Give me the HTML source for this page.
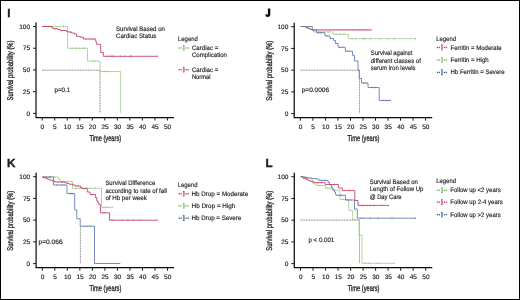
<!DOCTYPE html><html><head><meta charset="utf-8"><style>html,body{margin:0;padding:0;background:#fff;width:520px;height:300px;overflow:hidden}svg{display:block;will-change:transform;text-rendering:geometricPrecision}</style></head><body><svg width="520" height="300" viewBox="0 0 520 300" font-family="Liberation Sans, sans-serif" fill="#222">
<defs><filter id="soft" x="-5%" y="-5%" width="110%" height="110%"><feGaussianBlur stdDeviation="0.3"/></filter><filter id="tsoft" x="-5%" y="-5%" width="110%" height="110%"><feGaussianBlur stdDeviation="0.25"/></filter></defs>
<rect x="0" y="0" width="520" height="300" fill="#fff"/>
<g filter="url(#soft)">
<path d="M42,70.2 H100 M100,70.2 V113.4" fill="none" stroke="#d0d0d0" stroke-width="0.85"/>
<path d="M42,70.2 H100 M100,70.2 V113.4" fill="none" stroke="#959595" stroke-width="0.85" stroke-dasharray="1.4,1.3"/>
<path d="M42,26.5 H67.5 V48.3 H87.5 V61 H100 V71.5 H120.7 V113.2" fill="none" stroke="#a2d08a" stroke-width="0.85" stroke-linejoin="miter"/>
<path d="M42,26.5 H51.7 V27.7 H53 V28.7 H57.5 V29.7 H60.3 V30.5 H66 V31.3 H67.8 V32 H71.5 V33 H74.5 V34 H76.5 V36.3 H80.3 V37.3 H83.5 V39 H95.7 V41.7 H96.4 V44.3 H100.7 V52.5 H103.3 V56.3 H157.8" fill="none" stroke="#c43a64" stroke-width="0.85" stroke-linejoin="miter"/>
<rect x="63.00" y="25.60" width="0.6" height="1.8" fill="#74b050" fill-opacity="0.75"/>
<rect x="71.70" y="47.40" width="0.6" height="1.8" fill="#74b050" fill-opacity="0.75"/>
<rect x="76.40" y="47.40" width="0.6" height="1.8" fill="#74b050" fill-opacity="0.75"/>
<rect x="79.00" y="47.40" width="0.6" height="1.8" fill="#74b050" fill-opacity="0.75"/>
<rect x="81.70" y="47.40" width="0.6" height="1.8" fill="#74b050" fill-opacity="0.75"/>
<rect x="84.40" y="47.40" width="0.6" height="1.8" fill="#74b050" fill-opacity="0.75"/>
<rect x="92.40" y="60.10" width="0.6" height="1.8" fill="#74b050" fill-opacity="0.75"/>
<rect x="94.10" y="60.10" width="0.6" height="1.8" fill="#74b050" fill-opacity="0.75"/>
<rect x="104.40" y="70.60" width="0.6" height="1.8" fill="#74b050" fill-opacity="0.75"/>
<rect x="107.70" y="70.60" width="0.6" height="1.8" fill="#74b050" fill-opacity="0.75"/>
<rect x="45.70" y="25.60" width="0.6" height="1.8" fill="#c03860" fill-opacity="0.75"/>
<rect x="48.70" y="25.60" width="0.6" height="1.8" fill="#c03860" fill-opacity="0.75"/>
<rect x="54.70" y="27.80" width="0.6" height="1.8" fill="#c03860" fill-opacity="0.75"/>
<rect x="61.70" y="29.60" width="0.6" height="1.8" fill="#c03860" fill-opacity="0.75"/>
<rect x="69.70" y="31.10" width="0.6" height="1.8" fill="#c03860" fill-opacity="0.75"/>
<rect x="85.70" y="38.10" width="0.6" height="1.8" fill="#c03860" fill-opacity="0.75"/>
<rect x="89.70" y="38.10" width="0.6" height="1.8" fill="#c03860" fill-opacity="0.75"/>
<rect x="92.70" y="38.10" width="0.6" height="1.8" fill="#c03860" fill-opacity="0.75"/>
<rect x="106.00" y="55.40" width="0.6" height="1.8" fill="#c03860" fill-opacity="0.75"/>
<rect x="108.40" y="55.40" width="0.6" height="1.8" fill="#c03860" fill-opacity="0.75"/>
<rect x="110.70" y="55.40" width="0.6" height="1.8" fill="#c03860" fill-opacity="0.75"/>
<rect x="111.80" y="55.40" width="0.6" height="1.8" fill="#c03860" fill-opacity="0.75"/>
<rect x="113.50" y="55.40" width="0.6" height="1.8" fill="#c03860" fill-opacity="0.75"/>
<rect x="120.20" y="55.40" width="0.6" height="1.8" fill="#c03860" fill-opacity="0.75"/>
<rect x="124.20" y="55.40" width="0.6" height="1.8" fill="#c03860" fill-opacity="0.75"/>
<rect x="129.90" y="55.40" width="0.6" height="1.8" fill="#c03860" fill-opacity="0.75"/>
<rect x="130.80" y="55.40" width="0.6" height="1.8" fill="#c03860" fill-opacity="0.75"/>
<rect x="156.80" y="55.40" width="0.6" height="1.8" fill="#c03860" fill-opacity="0.75"/>
<rect x="178.55" y="47.35" width="1.3" height="1.3" fill="#74b050"/>
<rect x="180.45" y="47.35" width="1.3" height="1.3" fill="#74b050"/>
<rect x="185.45" y="47.35" width="1.3" height="1.3" fill="#74b050"/>
<rect x="187.45" y="47.35" width="1.3" height="1.3" fill="#74b050"/>
<rect x="183.10" y="45.30" width="1.3" height="5.4" fill="#74b050" fill-opacity="0.55" stroke="#74b050" stroke-width="0.35"/>
<rect x="178.55" y="69.05" width="1.3" height="1.3" fill="#c03860"/>
<rect x="180.45" y="69.05" width="1.3" height="1.3" fill="#c03860"/>
<rect x="185.45" y="69.05" width="1.3" height="1.3" fill="#c03860"/>
<rect x="187.45" y="69.05" width="1.3" height="1.3" fill="#c03860"/>
<rect x="183.10" y="67.00" width="1.3" height="5.4" fill="#c03860" fill-opacity="0.55" stroke="#c03860" stroke-width="0.35"/>
<path d="M300.5,70.2 H359.5 M359.5,70.2 V113.6" fill="none" stroke="#d0d0d0" stroke-width="0.85"/>
<path d="M300.5,70.2 H359.5 M359.5,70.2 V113.6" fill="none" stroke="#959595" stroke-width="0.85" stroke-dasharray="1.4,1.3"/>
<path d="M300.7,26.5 H306.5 V28.2 H310.3 V29.5 H313.3 V31.9 H332.8 V34.2 H348.3 V38.7 H416" fill="none" stroke="#a2d08a" stroke-width="0.85" stroke-linejoin="miter"/>
<path d="M300.7,26.5 H305.5 V27.3 H307.5 V28.2 H309.5 V29.2 H311.5 V29.9 H371.5" fill="none" stroke="#c43a64" stroke-width="0.85" stroke-linejoin="miter"/>
<path d="M300.7,26.5 H312.3 V30 H316.5 V32.7 H324.7 V34.5 H325.2 V36 H330 V38.5 H333.7 V40.5 H335.5 V43.5 H338 V47.3 H345.3 V51.2 H352.5 V55.3 H354.5 V61 H358 V70 H359.2 V78.5 H361.5 V83 H368 V87.5 H379.2 V100.5 H390.5" fill="none" stroke="#5e76b0" stroke-width="0.85" stroke-linejoin="miter"/>
<rect x="319.70" y="31.00" width="0.6" height="1.8" fill="#74b050" fill-opacity="0.75"/>
<rect x="323.70" y="31.00" width="0.6" height="1.8" fill="#74b050" fill-opacity="0.75"/>
<rect x="327.70" y="31.00" width="0.6" height="1.8" fill="#74b050" fill-opacity="0.75"/>
<rect x="335.70" y="33.30" width="0.6" height="1.8" fill="#74b050" fill-opacity="0.75"/>
<rect x="339.70" y="33.30" width="0.6" height="1.8" fill="#74b050" fill-opacity="0.75"/>
<rect x="343.70" y="33.30" width="0.6" height="1.8" fill="#74b050" fill-opacity="0.75"/>
<rect x="351.70" y="37.80" width="0.6" height="1.8" fill="#74b050" fill-opacity="0.75"/>
<rect x="355.70" y="37.80" width="0.6" height="1.8" fill="#74b050" fill-opacity="0.75"/>
<rect x="362.00" y="37.80" width="0.6" height="1.8" fill="#74b050" fill-opacity="0.75"/>
<rect x="364.20" y="37.80" width="0.6" height="1.8" fill="#74b050" fill-opacity="0.75"/>
<rect x="365.20" y="37.80" width="0.6" height="1.8" fill="#74b050" fill-opacity="0.75"/>
<rect x="370.20" y="37.80" width="0.6" height="1.8" fill="#74b050" fill-opacity="0.75"/>
<rect x="379.20" y="37.80" width="0.6" height="1.8" fill="#74b050" fill-opacity="0.75"/>
<rect x="388.20" y="37.80" width="0.6" height="1.8" fill="#74b050" fill-opacity="0.75"/>
<rect x="394.20" y="37.80" width="0.6" height="1.8" fill="#74b050" fill-opacity="0.75"/>
<rect x="415.20" y="37.80" width="0.6" height="1.8" fill="#74b050" fill-opacity="0.75"/>
<rect x="317.70" y="29.00" width="0.6" height="1.8" fill="#c03860" fill-opacity="0.75"/>
<rect x="321.70" y="29.00" width="0.6" height="1.8" fill="#c03860" fill-opacity="0.75"/>
<rect x="325.70" y="29.00" width="0.6" height="1.8" fill="#c03860" fill-opacity="0.75"/>
<rect x="329.70" y="29.00" width="0.6" height="1.8" fill="#c03860" fill-opacity="0.75"/>
<rect x="333.70" y="29.00" width="0.6" height="1.8" fill="#c03860" fill-opacity="0.75"/>
<rect x="337.70" y="29.00" width="0.6" height="1.8" fill="#c03860" fill-opacity="0.75"/>
<rect x="340.70" y="29.00" width="0.6" height="1.8" fill="#c03860" fill-opacity="0.75"/>
<rect x="343.70" y="29.00" width="0.6" height="1.8" fill="#c03860" fill-opacity="0.75"/>
<rect x="346.70" y="29.00" width="0.6" height="1.8" fill="#c03860" fill-opacity="0.75"/>
<rect x="349.70" y="29.00" width="0.6" height="1.8" fill="#c03860" fill-opacity="0.75"/>
<rect x="352.70" y="29.00" width="0.6" height="1.8" fill="#c03860" fill-opacity="0.75"/>
<rect x="355.70" y="29.00" width="0.6" height="1.8" fill="#c03860" fill-opacity="0.75"/>
<rect x="358.70" y="29.00" width="0.6" height="1.8" fill="#c03860" fill-opacity="0.75"/>
<rect x="360.70" y="29.00" width="0.6" height="1.8" fill="#c03860" fill-opacity="0.75"/>
<rect x="363.70" y="29.00" width="0.6" height="1.8" fill="#c03860" fill-opacity="0.75"/>
<rect x="365.70" y="29.00" width="0.6" height="1.8" fill="#c03860" fill-opacity="0.75"/>
<rect x="367.70" y="29.00" width="0.6" height="1.8" fill="#c03860" fill-opacity="0.75"/>
<rect x="370.70" y="29.00" width="0.6" height="1.8" fill="#c03860" fill-opacity="0.75"/>
<rect x="318.20" y="31.80" width="0.6" height="1.8" fill="#3c5696" fill-opacity="0.75"/>
<rect x="320.70" y="31.80" width="0.6" height="1.8" fill="#3c5696" fill-opacity="0.75"/>
<rect x="326.70" y="35.10" width="0.6" height="1.8" fill="#3c5696" fill-opacity="0.75"/>
<rect x="339.70" y="46.40" width="0.6" height="1.8" fill="#3c5696" fill-opacity="0.75"/>
<rect x="342.20" y="46.40" width="0.6" height="1.8" fill="#3c5696" fill-opacity="0.75"/>
<rect x="346.70" y="50.30" width="0.6" height="1.8" fill="#3c5696" fill-opacity="0.75"/>
<rect x="349.70" y="50.30" width="0.6" height="1.8" fill="#3c5696" fill-opacity="0.75"/>
<rect x="363.70" y="82.10" width="0.6" height="1.8" fill="#3c5696" fill-opacity="0.75"/>
<rect x="365.70" y="82.10" width="0.6" height="1.8" fill="#3c5696" fill-opacity="0.75"/>
<rect x="371.70" y="86.60" width="0.6" height="1.8" fill="#3c5696" fill-opacity="0.75"/>
<rect x="374.70" y="86.60" width="0.6" height="1.8" fill="#3c5696" fill-opacity="0.75"/>
<rect x="382.70" y="99.60" width="0.6" height="1.8" fill="#3c5696" fill-opacity="0.75"/>
<rect x="385.70" y="99.60" width="0.6" height="1.8" fill="#3c5696" fill-opacity="0.75"/>
<rect x="390.00" y="99.60" width="0.6" height="1.8" fill="#3c5696" fill-opacity="0.75"/>
<rect x="436.85" y="46.85" width="1.3" height="1.3" fill="#c03860"/>
<rect x="438.75" y="46.85" width="1.3" height="1.3" fill="#c03860"/>
<rect x="443.75" y="46.85" width="1.3" height="1.3" fill="#c03860"/>
<rect x="445.75" y="46.85" width="1.3" height="1.3" fill="#c03860"/>
<rect x="441.40" y="44.80" width="1.3" height="5.4" fill="#c03860" fill-opacity="0.55" stroke="#c03860" stroke-width="0.35"/>
<rect x="436.85" y="59.35" width="1.3" height="1.3" fill="#74b050"/>
<rect x="438.75" y="59.35" width="1.3" height="1.3" fill="#74b050"/>
<rect x="443.75" y="59.35" width="1.3" height="1.3" fill="#74b050"/>
<rect x="445.75" y="59.35" width="1.3" height="1.3" fill="#74b050"/>
<rect x="441.40" y="57.30" width="1.3" height="5.4" fill="#74b050" fill-opacity="0.55" stroke="#74b050" stroke-width="0.35"/>
<rect x="436.85" y="71.75" width="1.3" height="1.3" fill="#3c5696"/>
<rect x="438.75" y="71.75" width="1.3" height="1.3" fill="#3c5696"/>
<rect x="443.75" y="71.75" width="1.3" height="1.3" fill="#3c5696"/>
<rect x="445.75" y="71.75" width="1.3" height="1.3" fill="#3c5696"/>
<rect x="441.40" y="69.70" width="1.3" height="5.4" fill="#3c5696" fill-opacity="0.55" stroke="#3c5696" stroke-width="0.35"/>
<path d="M80.4,226.3 V263.4" fill="none" stroke="#d0d0d0" stroke-width="0.85"/>
<path d="M80.4,226.3 V263.4" fill="none" stroke="#959595" stroke-width="0.85" stroke-dasharray="1.4,1.3"/>
<path d="M42.3,177 H58.7 V179.3 H60.7 V181.5 H72.5 V188.3 H101.5 V207.4 H112.5" fill="none" stroke="#a2d08a" stroke-width="0.85" stroke-linejoin="miter"/>
<path d="M42.3,177 H53.6 V185 H67 V193.5 H74.7 V210 H76.8 V218.7 H80.2 V226.2 H94.5 V263.5 H120.3" fill="none" stroke="#5e76b0" stroke-width="0.85" stroke-linejoin="miter"/>
<path d="M42.3,177 H44 V178 H47 V179 H49 V180 H52 V181 H55 V182 H65 V182.8 H67 V183.5 H69 V184.2 H72.5 V185 H75 V186 H80.5 V187.5 H82 V188.5 H87.3 V192 H90 V194.5 H95.5 V197.5 H96.8 V201 H98 V203 H99 V204.5 H100.4 V212.8 H109.5 V220.2 H157.2" fill="none" stroke="#c43a64" stroke-width="0.85" stroke-linejoin="miter"/>
<rect x="49.70" y="176.10" width="0.6" height="1.8" fill="#74b050" fill-opacity="0.75"/>
<rect x="54.70" y="176.10" width="0.6" height="1.8" fill="#74b050" fill-opacity="0.75"/>
<rect x="62.70" y="180.60" width="0.6" height="1.8" fill="#74b050" fill-opacity="0.75"/>
<rect x="67.70" y="180.60" width="0.6" height="1.8" fill="#74b050" fill-opacity="0.75"/>
<rect x="75.70" y="187.40" width="0.6" height="1.8" fill="#74b050" fill-opacity="0.75"/>
<rect x="79.70" y="187.40" width="0.6" height="1.8" fill="#74b050" fill-opacity="0.75"/>
<rect x="85.70" y="187.40" width="0.6" height="1.8" fill="#74b050" fill-opacity="0.75"/>
<rect x="89.70" y="187.40" width="0.6" height="1.8" fill="#74b050" fill-opacity="0.75"/>
<rect x="94.70" y="187.40" width="0.6" height="1.8" fill="#74b050" fill-opacity="0.75"/>
<rect x="103.70" y="206.50" width="0.6" height="1.8" fill="#74b050" fill-opacity="0.75"/>
<rect x="106.70" y="206.50" width="0.6" height="1.8" fill="#74b050" fill-opacity="0.75"/>
<rect x="112.00" y="206.50" width="0.6" height="1.8" fill="#74b050" fill-opacity="0.75"/>
<rect x="57.70" y="181.10" width="0.6" height="1.8" fill="#c03860" fill-opacity="0.75"/>
<rect x="61.70" y="181.10" width="0.6" height="1.8" fill="#c03860" fill-opacity="0.75"/>
<rect x="77.70" y="185.10" width="0.6" height="1.8" fill="#c03860" fill-opacity="0.75"/>
<rect x="83.70" y="187.60" width="0.6" height="1.8" fill="#c03860" fill-opacity="0.75"/>
<rect x="91.70" y="193.60" width="0.6" height="1.8" fill="#c03860" fill-opacity="0.75"/>
<rect x="102.70" y="211.90" width="0.6" height="1.8" fill="#c03860" fill-opacity="0.75"/>
<rect x="104.70" y="211.90" width="0.6" height="1.8" fill="#c03860" fill-opacity="0.75"/>
<rect x="110.70" y="219.30" width="0.6" height="1.8" fill="#c03860" fill-opacity="0.75"/>
<rect x="112.70" y="219.30" width="0.6" height="1.8" fill="#c03860" fill-opacity="0.75"/>
<rect x="121.70" y="219.30" width="0.6" height="1.8" fill="#c03860" fill-opacity="0.75"/>
<rect x="127.70" y="219.30" width="0.6" height="1.8" fill="#c03860" fill-opacity="0.75"/>
<rect x="132.70" y="219.30" width="0.6" height="1.8" fill="#c03860" fill-opacity="0.75"/>
<rect x="139.70" y="219.30" width="0.6" height="1.8" fill="#c03860" fill-opacity="0.75"/>
<rect x="156.70" y="219.30" width="0.6" height="1.8" fill="#c03860" fill-opacity="0.75"/>
<rect x="45.70" y="176.10" width="0.6" height="1.8" fill="#3c5696" fill-opacity="0.75"/>
<rect x="49.70" y="176.10" width="0.6" height="1.8" fill="#3c5696" fill-opacity="0.75"/>
<rect x="56.70" y="184.10" width="0.6" height="1.8" fill="#3c5696" fill-opacity="0.75"/>
<rect x="60.70" y="184.10" width="0.6" height="1.8" fill="#3c5696" fill-opacity="0.75"/>
<rect x="63.70" y="184.10" width="0.6" height="1.8" fill="#3c5696" fill-opacity="0.75"/>
<rect x="69.70" y="192.60" width="0.6" height="1.8" fill="#3c5696" fill-opacity="0.75"/>
<rect x="71.70" y="192.60" width="0.6" height="1.8" fill="#3c5696" fill-opacity="0.75"/>
<rect x="83.70" y="225.30" width="0.6" height="1.8" fill="#3c5696" fill-opacity="0.75"/>
<rect x="86.70" y="225.30" width="0.6" height="1.8" fill="#3c5696" fill-opacity="0.75"/>
<rect x="89.70" y="225.30" width="0.6" height="1.8" fill="#3c5696" fill-opacity="0.75"/>
<rect x="178.55" y="193.15" width="1.3" height="1.3" fill="#c03860"/>
<rect x="180.45" y="193.15" width="1.3" height="1.3" fill="#c03860"/>
<rect x="185.45" y="193.15" width="1.3" height="1.3" fill="#c03860"/>
<rect x="187.45" y="193.15" width="1.3" height="1.3" fill="#c03860"/>
<rect x="183.10" y="191.10" width="1.3" height="5.4" fill="#c03860" fill-opacity="0.55" stroke="#c03860" stroke-width="0.35"/>
<rect x="178.55" y="205.25" width="1.3" height="1.3" fill="#74b050"/>
<rect x="180.45" y="205.25" width="1.3" height="1.3" fill="#74b050"/>
<rect x="185.45" y="205.25" width="1.3" height="1.3" fill="#74b050"/>
<rect x="187.45" y="205.25" width="1.3" height="1.3" fill="#74b050"/>
<rect x="183.10" y="203.20" width="1.3" height="5.4" fill="#74b050" fill-opacity="0.55" stroke="#74b050" stroke-width="0.35"/>
<rect x="178.55" y="217.55" width="1.3" height="1.3" fill="#3c5696"/>
<rect x="180.45" y="217.55" width="1.3" height="1.3" fill="#3c5696"/>
<rect x="185.45" y="217.55" width="1.3" height="1.3" fill="#3c5696"/>
<rect x="187.45" y="217.55" width="1.3" height="1.3" fill="#3c5696"/>
<rect x="183.10" y="215.50" width="1.3" height="5.4" fill="#3c5696" fill-opacity="0.55" stroke="#3c5696" stroke-width="0.35"/>
<path d="M300.6,220.1 H359.5 M359.5,220.1 V263.4" fill="none" stroke="#d0d0d0" stroke-width="0.85"/>
<path d="M300.6,220.1 H359.5 M359.5,220.1 V263.4" fill="none" stroke="#959595" stroke-width="0.85" stroke-dasharray="1.4,1.3"/>
<path d="M300.6,176.8 H306.5 V178.3 H311.8 V180.4 H313 V183.9 H316.6 V185.5 H325.5 V188 H332 V190.2 H340 V199.5 H348.7 V210.3 H352.7 V219.5 H359 V235.3 H362 V263.3 H394.6" fill="none" stroke="#a2d08a" stroke-width="0.85" stroke-linejoin="miter"/>
<path d="M300.6,176.8 H303 V178.3 H306.5 V179.6 H308 V180.6 H310.5 V181.7 H313.5 V182.6 H325.2 V184.5 H338.4 V188 H342.3 V190.6 H354.8 V200.5 H358 V205.4 H388.9" fill="none" stroke="#c43a64" stroke-width="0.85" stroke-linejoin="miter"/>
<path d="M300.6,176.8 H304.3 V177.5 H307.5 V178 H312 V178.5 H316.6 V179 H319 V180.4 H328 V182.5 H329.5 V184.5 H331 V186 H332 V188 H333 V190 H334.5 V192 H335.5 V194 H336 V195.3 H345.5 V200 H354.5 V209 H357.3 V218.2 H415.8" fill="none" stroke="#5e76b0" stroke-width="0.85" stroke-linejoin="miter"/>
<rect x="319.70" y="184.60" width="0.6" height="1.8" fill="#74b050" fill-opacity="0.75"/>
<rect x="326.70" y="187.10" width="0.6" height="1.8" fill="#74b050" fill-opacity="0.75"/>
<rect x="329.70" y="187.10" width="0.6" height="1.8" fill="#74b050" fill-opacity="0.75"/>
<rect x="342.70" y="198.60" width="0.6" height="1.8" fill="#74b050" fill-opacity="0.75"/>
<rect x="345.70" y="198.60" width="0.6" height="1.8" fill="#74b050" fill-opacity="0.75"/>
<rect x="354.70" y="209.40" width="0.6" height="1.8" fill="#74b050" fill-opacity="0.75"/>
<rect x="364.70" y="262.40" width="0.6" height="1.8" fill="#74b050" fill-opacity="0.75"/>
<rect x="368.70" y="262.40" width="0.6" height="1.8" fill="#74b050" fill-opacity="0.75"/>
<rect x="377.70" y="262.40" width="0.6" height="1.8" fill="#74b050" fill-opacity="0.75"/>
<rect x="394.10" y="262.40" width="0.6" height="1.8" fill="#74b050" fill-opacity="0.75"/>
<rect x="317.70" y="181.70" width="0.6" height="1.8" fill="#c03860" fill-opacity="0.75"/>
<rect x="320.70" y="181.70" width="0.6" height="1.8" fill="#c03860" fill-opacity="0.75"/>
<rect x="329.70" y="183.60" width="0.6" height="1.8" fill="#c03860" fill-opacity="0.75"/>
<rect x="333.70" y="183.60" width="0.6" height="1.8" fill="#c03860" fill-opacity="0.75"/>
<rect x="349.70" y="189.70" width="0.6" height="1.8" fill="#c03860" fill-opacity="0.75"/>
<rect x="361.70" y="204.50" width="0.6" height="1.8" fill="#c03860" fill-opacity="0.75"/>
<rect x="363.70" y="204.50" width="0.6" height="1.8" fill="#c03860" fill-opacity="0.75"/>
<rect x="366.70" y="204.50" width="0.6" height="1.8" fill="#c03860" fill-opacity="0.75"/>
<rect x="369.70" y="204.50" width="0.6" height="1.8" fill="#c03860" fill-opacity="0.75"/>
<rect x="373.70" y="204.50" width="0.6" height="1.8" fill="#c03860" fill-opacity="0.75"/>
<rect x="381.70" y="204.50" width="0.6" height="1.8" fill="#c03860" fill-opacity="0.75"/>
<rect x="388.40" y="204.50" width="0.6" height="1.8" fill="#c03860" fill-opacity="0.75"/>
<rect x="321.70" y="179.50" width="0.6" height="1.8" fill="#3c5696" fill-opacity="0.75"/>
<rect x="324.70" y="179.50" width="0.6" height="1.8" fill="#3c5696" fill-opacity="0.75"/>
<rect x="338.70" y="194.40" width="0.6" height="1.8" fill="#3c5696" fill-opacity="0.75"/>
<rect x="341.70" y="194.40" width="0.6" height="1.8" fill="#3c5696" fill-opacity="0.75"/>
<rect x="347.70" y="199.10" width="0.6" height="1.8" fill="#3c5696" fill-opacity="0.75"/>
<rect x="350.70" y="199.10" width="0.6" height="1.8" fill="#3c5696" fill-opacity="0.75"/>
<rect x="360.70" y="217.30" width="0.6" height="1.8" fill="#3c5696" fill-opacity="0.75"/>
<rect x="363.70" y="217.30" width="0.6" height="1.8" fill="#3c5696" fill-opacity="0.75"/>
<rect x="369.70" y="217.30" width="0.6" height="1.8" fill="#3c5696" fill-opacity="0.75"/>
<rect x="377.70" y="217.30" width="0.6" height="1.8" fill="#3c5696" fill-opacity="0.75"/>
<rect x="391.70" y="217.30" width="0.6" height="1.8" fill="#3c5696" fill-opacity="0.75"/>
<rect x="415.30" y="217.30" width="0.6" height="1.8" fill="#3c5696" fill-opacity="0.75"/>
<rect x="436.85" y="189.65" width="1.3" height="1.3" fill="#74b050"/>
<rect x="438.75" y="189.65" width="1.3" height="1.3" fill="#74b050"/>
<rect x="443.75" y="189.65" width="1.3" height="1.3" fill="#74b050"/>
<rect x="445.75" y="189.65" width="1.3" height="1.3" fill="#74b050"/>
<rect x="441.40" y="187.60" width="1.3" height="5.4" fill="#74b050" fill-opacity="0.55" stroke="#74b050" stroke-width="0.35"/>
<rect x="436.85" y="201.55" width="1.3" height="1.3" fill="#c03860"/>
<rect x="438.75" y="201.55" width="1.3" height="1.3" fill="#c03860"/>
<rect x="443.75" y="201.55" width="1.3" height="1.3" fill="#c03860"/>
<rect x="445.75" y="201.55" width="1.3" height="1.3" fill="#c03860"/>
<rect x="441.40" y="199.50" width="1.3" height="5.4" fill="#c03860" fill-opacity="0.55" stroke="#c03860" stroke-width="0.35"/>
<rect x="436.85" y="214.05" width="1.3" height="1.3" fill="#3c5696"/>
<rect x="438.75" y="214.05" width="1.3" height="1.3" fill="#3c5696"/>
<rect x="443.75" y="214.05" width="1.3" height="1.3" fill="#3c5696"/>
<rect x="445.75" y="214.05" width="1.3" height="1.3" fill="#3c5696"/>
<rect x="441.40" y="212.00" width="1.3" height="5.4" fill="#3c5696" fill-opacity="0.55" stroke="#3c5696" stroke-width="0.35"/>
</g>
<g filter="url(#tsoft)">
<path d="M36,22.5 V117.5 H174" fill="none" stroke="#111" stroke-width="1.25"/>
<path d="M33,113.40 H36" stroke="#1a1a1a" stroke-width="1"/>
<text x="30.10" y="115.55" font-size="6.5" text-anchor="end" stroke="#222" stroke-width="0.15">0</text>
<path d="M33,91.68 H36" stroke="#1a1a1a" stroke-width="1"/>
<text x="30.10" y="93.83" font-size="6.5" text-anchor="end" stroke="#222" stroke-width="0.15">25</text>
<path d="M33,69.95 H36" stroke="#1a1a1a" stroke-width="1"/>
<text x="30.10" y="72.10" font-size="6.5" text-anchor="end" stroke="#222" stroke-width="0.15">50</text>
<path d="M33,48.23 H36" stroke="#1a1a1a" stroke-width="1"/>
<text x="30.10" y="50.38" font-size="6.5" text-anchor="end" stroke="#222" stroke-width="0.15">75</text>
<path d="M33,26.50 H36" stroke="#1a1a1a" stroke-width="1"/>
<text x="30.10" y="28.65" font-size="6.5" text-anchor="end" stroke="#222" stroke-width="0.15">100</text>
<path d="M42.20,117.5 V120.5" stroke="#1a1a1a" stroke-width="1"/>
<text x="42.40" y="129.10" font-size="6.5" text-anchor="middle" stroke="#222" stroke-width="0.15">0</text>
<path d="M54.72,117.5 V120.5" stroke="#1a1a1a" stroke-width="1"/>
<text x="54.92" y="129.10" font-size="6.5" text-anchor="middle" stroke="#222" stroke-width="0.15">5</text>
<path d="M67.24,117.5 V120.5" stroke="#1a1a1a" stroke-width="1"/>
<text x="67.44" y="129.10" font-size="6.5" text-anchor="middle" stroke="#222" stroke-width="0.15">10</text>
<path d="M79.76,117.5 V120.5" stroke="#1a1a1a" stroke-width="1"/>
<text x="79.96" y="129.10" font-size="6.5" text-anchor="middle" stroke="#222" stroke-width="0.15">15</text>
<path d="M92.28,117.5 V120.5" stroke="#1a1a1a" stroke-width="1"/>
<text x="92.48" y="129.10" font-size="6.5" text-anchor="middle" stroke="#222" stroke-width="0.15">20</text>
<path d="M104.80,117.5 V120.5" stroke="#1a1a1a" stroke-width="1"/>
<text x="105.00" y="129.10" font-size="6.5" text-anchor="middle" stroke="#222" stroke-width="0.15">25</text>
<path d="M117.32,117.5 V120.5" stroke="#1a1a1a" stroke-width="1"/>
<text x="117.52" y="129.10" font-size="6.5" text-anchor="middle" stroke="#222" stroke-width="0.15">30</text>
<path d="M129.84,117.5 V120.5" stroke="#1a1a1a" stroke-width="1"/>
<text x="130.04" y="129.10" font-size="6.5" text-anchor="middle" stroke="#222" stroke-width="0.15">35</text>
<path d="M142.36,117.5 V120.5" stroke="#1a1a1a" stroke-width="1"/>
<text x="142.56" y="129.10" font-size="6.5" text-anchor="middle" stroke="#222" stroke-width="0.15">40</text>
<path d="M154.88,117.5 V120.5" stroke="#1a1a1a" stroke-width="1"/>
<text x="155.08" y="129.10" font-size="6.5" text-anchor="middle" stroke="#222" stroke-width="0.15">45</text>
<path d="M167.40,117.5 V120.5" stroke="#1a1a1a" stroke-width="1"/>
<text x="167.60" y="129.10" font-size="6.5" text-anchor="middle" stroke="#222" stroke-width="0.15">50</text>
<text transform="translate(13.2,70.5) rotate(-90)" font-size="8.4" text-anchor="middle" textLength="60" lengthAdjust="spacingAndGlyphs" stroke="#222" stroke-width="0.3">Survival probability (%)</text>
<text x="89.4" y="140.8" font-size="8.4" textLength="31.8" lengthAdjust="spacingAndGlyphs" stroke="#222" stroke-width="0.3">Time (years)</text>
<text x="7.3" y="16.8" font-size="11.7" font-weight="bold" stroke="#111" stroke-width="0.35">I</text>
<text x="116.00" y="30.80" font-size="6.5" textLength="48.90" lengthAdjust="spacingAndGlyphs" stroke="#222" stroke-width="0.15">Survival Based on</text>
<text x="116.00" y="38.20" font-size="6.5" textLength="40.40" lengthAdjust="spacingAndGlyphs" stroke="#222" stroke-width="0.15">Cardiac Status</text>
<text x="178.00" y="40.70" font-size="6.5" textLength="19.80" lengthAdjust="spacingAndGlyphs" stroke="#222" stroke-width="0.15">Legend</text>
<text x="191.90" y="49.60" font-size="6.5" textLength="26.50" lengthAdjust="spacingAndGlyphs" stroke="#222" stroke-width="0.15">Cardiac =</text>
<text x="191.90" y="57.40" font-size="6.5" textLength="35.10" lengthAdjust="spacingAndGlyphs" stroke="#222" stroke-width="0.15">Complication</text>
<text x="191.90" y="71.60" font-size="6.5" textLength="26.50" lengthAdjust="spacingAndGlyphs" stroke="#222" stroke-width="0.15">Cardiac =</text>
<text x="191.90" y="79.30" font-size="6.5" textLength="18.70" lengthAdjust="spacingAndGlyphs" stroke="#222" stroke-width="0.15">Normal</text>
<text x="54.50" y="91.80" font-size="6.5" textLength="15.80" lengthAdjust="spacingAndGlyphs" stroke="#222" stroke-width="0.15">p=0.1</text>
<path d="M294.2,22.7 V117.7 H432.2" fill="none" stroke="#111" stroke-width="1.25"/>
<path d="M291.2,113.60 H294.2" stroke="#1a1a1a" stroke-width="1"/>
<text x="288.30" y="115.75" font-size="6.5" text-anchor="end" stroke="#222" stroke-width="0.15">0</text>
<path d="M291.2,91.88 H294.2" stroke="#1a1a1a" stroke-width="1"/>
<text x="288.30" y="94.03" font-size="6.5" text-anchor="end" stroke="#222" stroke-width="0.15">25</text>
<path d="M291.2,70.15 H294.2" stroke="#1a1a1a" stroke-width="1"/>
<text x="288.30" y="72.30" font-size="6.5" text-anchor="end" stroke="#222" stroke-width="0.15">50</text>
<path d="M291.2,48.43 H294.2" stroke="#1a1a1a" stroke-width="1"/>
<text x="288.30" y="50.58" font-size="6.5" text-anchor="end" stroke="#222" stroke-width="0.15">75</text>
<path d="M291.2,26.70 H294.2" stroke="#1a1a1a" stroke-width="1"/>
<text x="288.30" y="28.85" font-size="6.5" text-anchor="end" stroke="#222" stroke-width="0.15">100</text>
<path d="M300.40,117.7 V120.7" stroke="#1a1a1a" stroke-width="1"/>
<text x="300.60" y="129.30" font-size="6.5" text-anchor="middle" stroke="#222" stroke-width="0.15">0</text>
<path d="M312.92,117.7 V120.7" stroke="#1a1a1a" stroke-width="1"/>
<text x="313.12" y="129.30" font-size="6.5" text-anchor="middle" stroke="#222" stroke-width="0.15">5</text>
<path d="M325.44,117.7 V120.7" stroke="#1a1a1a" stroke-width="1"/>
<text x="325.64" y="129.30" font-size="6.5" text-anchor="middle" stroke="#222" stroke-width="0.15">10</text>
<path d="M337.96,117.7 V120.7" stroke="#1a1a1a" stroke-width="1"/>
<text x="338.16" y="129.30" font-size="6.5" text-anchor="middle" stroke="#222" stroke-width="0.15">15</text>
<path d="M350.48,117.7 V120.7" stroke="#1a1a1a" stroke-width="1"/>
<text x="350.68" y="129.30" font-size="6.5" text-anchor="middle" stroke="#222" stroke-width="0.15">20</text>
<path d="M363.00,117.7 V120.7" stroke="#1a1a1a" stroke-width="1"/>
<text x="363.20" y="129.30" font-size="6.5" text-anchor="middle" stroke="#222" stroke-width="0.15">25</text>
<path d="M375.52,117.7 V120.7" stroke="#1a1a1a" stroke-width="1"/>
<text x="375.72" y="129.30" font-size="6.5" text-anchor="middle" stroke="#222" stroke-width="0.15">30</text>
<path d="M388.04,117.7 V120.7" stroke="#1a1a1a" stroke-width="1"/>
<text x="388.24" y="129.30" font-size="6.5" text-anchor="middle" stroke="#222" stroke-width="0.15">35</text>
<path d="M400.56,117.7 V120.7" stroke="#1a1a1a" stroke-width="1"/>
<text x="400.76" y="129.30" font-size="6.5" text-anchor="middle" stroke="#222" stroke-width="0.15">40</text>
<path d="M413.08,117.7 V120.7" stroke="#1a1a1a" stroke-width="1"/>
<text x="413.28" y="129.30" font-size="6.5" text-anchor="middle" stroke="#222" stroke-width="0.15">45</text>
<path d="M425.60,117.7 V120.7" stroke="#1a1a1a" stroke-width="1"/>
<text x="425.80" y="129.30" font-size="6.5" text-anchor="middle" stroke="#222" stroke-width="0.15">50</text>
<text transform="translate(271.79999999999995,70.7) rotate(-90)" font-size="8.4" text-anchor="middle" textLength="60" lengthAdjust="spacingAndGlyphs" stroke="#222" stroke-width="0.3">Survival probability (%)</text>
<text x="347.6" y="141.0" font-size="8.4" textLength="31.8" lengthAdjust="spacingAndGlyphs" stroke="#222" stroke-width="0.3">Time (years)</text>
<path d="M267.9,8.5 H270.3 V14.0 Q270.3,16.9 267.6,16.9 Q265.3,16.9 265.2,14.4 L267.3,14.2 Q267.4,15.1 267.8,15.1 Q267.9,15.1 267.9,14.2 Z" fill="#111"/>
<text x="370.70" y="55.10" font-size="6.5" textLength="41.70" lengthAdjust="spacingAndGlyphs" stroke="#222" stroke-width="0.15">Survival against</text>
<text x="370.70" y="62.80" font-size="6.5" textLength="50.20" lengthAdjust="spacingAndGlyphs" stroke="#222" stroke-width="0.15">different classes of</text>
<text x="370.70" y="70.20" font-size="6.5" textLength="44.80" lengthAdjust="spacingAndGlyphs" stroke="#222" stroke-width="0.15">serum iron levels</text>
<text x="436.20" y="40.50" font-size="6.5" textLength="19.80" lengthAdjust="spacingAndGlyphs" stroke="#222" stroke-width="0.15">Legend</text>
<text x="450.50" y="49.50" font-size="6.5" textLength="51.20" lengthAdjust="spacingAndGlyphs" stroke="#222" stroke-width="0.15">Ferritin = Moderate</text>
<text x="450.50" y="61.90" font-size="6.5" textLength="38.20" lengthAdjust="spacingAndGlyphs" stroke="#222" stroke-width="0.15">Ferritin = High</text>
<text x="450.50" y="74.20" font-size="6.5" textLength="54.10" lengthAdjust="spacingAndGlyphs" stroke="#222" stroke-width="0.15">Hb Ferritin = Severe</text>
<text x="301.70" y="91.50" font-size="6.5" textLength="27.40" lengthAdjust="spacingAndGlyphs" stroke="#222" stroke-width="0.15">p=0.0006</text>
<path d="M36.1,172.7 V267.7 H174.1" fill="none" stroke="#111" stroke-width="1.25"/>
<path d="M33.1,263.60 H36.1" stroke="#1a1a1a" stroke-width="1"/>
<text x="30.20" y="265.75" font-size="6.5" text-anchor="end" stroke="#222" stroke-width="0.15">0</text>
<path d="M33.1,241.88 H36.1" stroke="#1a1a1a" stroke-width="1"/>
<text x="30.20" y="244.03" font-size="6.5" text-anchor="end" stroke="#222" stroke-width="0.15">25</text>
<path d="M33.1,220.15 H36.1" stroke="#1a1a1a" stroke-width="1"/>
<text x="30.20" y="222.30" font-size="6.5" text-anchor="end" stroke="#222" stroke-width="0.15">50</text>
<path d="M33.1,198.43 H36.1" stroke="#1a1a1a" stroke-width="1"/>
<text x="30.20" y="200.58" font-size="6.5" text-anchor="end" stroke="#222" stroke-width="0.15">75</text>
<path d="M33.1,176.70 H36.1" stroke="#1a1a1a" stroke-width="1"/>
<text x="30.20" y="178.85" font-size="6.5" text-anchor="end" stroke="#222" stroke-width="0.15">100</text>
<path d="M42.30,267.7 V270.7" stroke="#1a1a1a" stroke-width="1"/>
<text x="42.50" y="279.30" font-size="6.5" text-anchor="middle" stroke="#222" stroke-width="0.15">0</text>
<path d="M54.82,267.7 V270.7" stroke="#1a1a1a" stroke-width="1"/>
<text x="55.02" y="279.30" font-size="6.5" text-anchor="middle" stroke="#222" stroke-width="0.15">5</text>
<path d="M67.34,267.7 V270.7" stroke="#1a1a1a" stroke-width="1"/>
<text x="67.54" y="279.30" font-size="6.5" text-anchor="middle" stroke="#222" stroke-width="0.15">10</text>
<path d="M79.86,267.7 V270.7" stroke="#1a1a1a" stroke-width="1"/>
<text x="80.06" y="279.30" font-size="6.5" text-anchor="middle" stroke="#222" stroke-width="0.15">15</text>
<path d="M92.38,267.7 V270.7" stroke="#1a1a1a" stroke-width="1"/>
<text x="92.58" y="279.30" font-size="6.5" text-anchor="middle" stroke="#222" stroke-width="0.15">20</text>
<path d="M104.90,267.7 V270.7" stroke="#1a1a1a" stroke-width="1"/>
<text x="105.10" y="279.30" font-size="6.5" text-anchor="middle" stroke="#222" stroke-width="0.15">25</text>
<path d="M117.42,267.7 V270.7" stroke="#1a1a1a" stroke-width="1"/>
<text x="117.62" y="279.30" font-size="6.5" text-anchor="middle" stroke="#222" stroke-width="0.15">30</text>
<path d="M129.94,267.7 V270.7" stroke="#1a1a1a" stroke-width="1"/>
<text x="130.14" y="279.30" font-size="6.5" text-anchor="middle" stroke="#222" stroke-width="0.15">35</text>
<path d="M142.46,267.7 V270.7" stroke="#1a1a1a" stroke-width="1"/>
<text x="142.66" y="279.30" font-size="6.5" text-anchor="middle" stroke="#222" stroke-width="0.15">40</text>
<path d="M154.98,267.7 V270.7" stroke="#1a1a1a" stroke-width="1"/>
<text x="155.18" y="279.30" font-size="6.5" text-anchor="middle" stroke="#222" stroke-width="0.15">45</text>
<path d="M167.50,267.7 V270.7" stroke="#1a1a1a" stroke-width="1"/>
<text x="167.70" y="279.30" font-size="6.5" text-anchor="middle" stroke="#222" stroke-width="0.15">50</text>
<text transform="translate(13.299999999999999,220.7) rotate(-90)" font-size="8.4" text-anchor="middle" textLength="60" lengthAdjust="spacingAndGlyphs" stroke="#222" stroke-width="0.3">Survival probability (%)</text>
<text x="89.5" y="291.0" font-size="8.4" textLength="31.8" lengthAdjust="spacingAndGlyphs" stroke="#222" stroke-width="0.3">Time (years)</text>
<text x="7.1" y="167.0" font-size="11.7" font-weight="bold" stroke="#111" stroke-width="0.35">K</text>
<text x="105.40" y="185.20" font-size="6.5" textLength="49.80" lengthAdjust="spacingAndGlyphs" stroke="#222" stroke-width="0.15">Survival Difference</text>
<text x="105.40" y="192.90" font-size="6.5" textLength="61.50" lengthAdjust="spacingAndGlyphs" stroke="#222" stroke-width="0.15">according to rate of fall</text>
<text x="105.40" y="200.00" font-size="6.5" textLength="41.40" lengthAdjust="spacingAndGlyphs" stroke="#222" stroke-width="0.15">of Hb per week</text>
<text x="177.70" y="186.70" font-size="6.5" textLength="19.80" lengthAdjust="spacingAndGlyphs" stroke="#222" stroke-width="0.15">Legend</text>
<text x="191.60" y="195.70" font-size="6.5" textLength="56.60" lengthAdjust="spacingAndGlyphs" stroke="#222" stroke-width="0.15">Hb Drop = Moderate</text>
<text x="191.60" y="207.80" font-size="6.5" textLength="43.80" lengthAdjust="spacingAndGlyphs" stroke="#222" stroke-width="0.15">Hb Drop = High</text>
<text x="191.60" y="220.20" font-size="6.5" textLength="49.70" lengthAdjust="spacingAndGlyphs" stroke="#222" stroke-width="0.15">Hb Drop = Severe</text>
<text x="38.50" y="244.00" font-size="6.5" textLength="24.20" lengthAdjust="spacingAndGlyphs" stroke="#222" stroke-width="0.15">p=0.066</text>
<path d="M294.3,172.7 V267.7 H432.3" fill="none" stroke="#111" stroke-width="1.25"/>
<path d="M291.3,263.60 H294.3" stroke="#1a1a1a" stroke-width="1"/>
<text x="288.40" y="265.75" font-size="6.5" text-anchor="end" stroke="#222" stroke-width="0.15">0</text>
<path d="M291.3,241.88 H294.3" stroke="#1a1a1a" stroke-width="1"/>
<text x="288.40" y="244.03" font-size="6.5" text-anchor="end" stroke="#222" stroke-width="0.15">25</text>
<path d="M291.3,220.15 H294.3" stroke="#1a1a1a" stroke-width="1"/>
<text x="288.40" y="222.30" font-size="6.5" text-anchor="end" stroke="#222" stroke-width="0.15">50</text>
<path d="M291.3,198.43 H294.3" stroke="#1a1a1a" stroke-width="1"/>
<text x="288.40" y="200.58" font-size="6.5" text-anchor="end" stroke="#222" stroke-width="0.15">75</text>
<path d="M291.3,176.70 H294.3" stroke="#1a1a1a" stroke-width="1"/>
<text x="288.40" y="178.85" font-size="6.5" text-anchor="end" stroke="#222" stroke-width="0.15">100</text>
<path d="M300.50,267.7 V270.7" stroke="#1a1a1a" stroke-width="1"/>
<text x="300.70" y="279.30" font-size="6.5" text-anchor="middle" stroke="#222" stroke-width="0.15">0</text>
<path d="M313.02,267.7 V270.7" stroke="#1a1a1a" stroke-width="1"/>
<text x="313.22" y="279.30" font-size="6.5" text-anchor="middle" stroke="#222" stroke-width="0.15">5</text>
<path d="M325.54,267.7 V270.7" stroke="#1a1a1a" stroke-width="1"/>
<text x="325.74" y="279.30" font-size="6.5" text-anchor="middle" stroke="#222" stroke-width="0.15">10</text>
<path d="M338.06,267.7 V270.7" stroke="#1a1a1a" stroke-width="1"/>
<text x="338.26" y="279.30" font-size="6.5" text-anchor="middle" stroke="#222" stroke-width="0.15">15</text>
<path d="M350.58,267.7 V270.7" stroke="#1a1a1a" stroke-width="1"/>
<text x="350.78" y="279.30" font-size="6.5" text-anchor="middle" stroke="#222" stroke-width="0.15">20</text>
<path d="M363.10,267.7 V270.7" stroke="#1a1a1a" stroke-width="1"/>
<text x="363.30" y="279.30" font-size="6.5" text-anchor="middle" stroke="#222" stroke-width="0.15">25</text>
<path d="M375.62,267.7 V270.7" stroke="#1a1a1a" stroke-width="1"/>
<text x="375.82" y="279.30" font-size="6.5" text-anchor="middle" stroke="#222" stroke-width="0.15">30</text>
<path d="M388.14,267.7 V270.7" stroke="#1a1a1a" stroke-width="1"/>
<text x="388.34" y="279.30" font-size="6.5" text-anchor="middle" stroke="#222" stroke-width="0.15">35</text>
<path d="M400.66,267.7 V270.7" stroke="#1a1a1a" stroke-width="1"/>
<text x="400.86" y="279.30" font-size="6.5" text-anchor="middle" stroke="#222" stroke-width="0.15">40</text>
<path d="M413.18,267.7 V270.7" stroke="#1a1a1a" stroke-width="1"/>
<text x="413.38" y="279.30" font-size="6.5" text-anchor="middle" stroke="#222" stroke-width="0.15">45</text>
<path d="M425.70,267.7 V270.7" stroke="#1a1a1a" stroke-width="1"/>
<text x="425.90" y="279.30" font-size="6.5" text-anchor="middle" stroke="#222" stroke-width="0.15">50</text>
<text transform="translate(271.9,220.7) rotate(-90)" font-size="8.4" text-anchor="middle" textLength="60" lengthAdjust="spacingAndGlyphs" stroke="#222" stroke-width="0.3">Survival probability (%)</text>
<text x="347.70000000000005" y="291.0" font-size="8.4" textLength="31.8" lengthAdjust="spacingAndGlyphs" stroke="#222" stroke-width="0.3">Time (years)</text>
<text x="265.5" y="167.0" font-size="11.7" font-weight="bold" stroke="#111" stroke-width="0.35">L</text>
<text x="369.70" y="183.50" font-size="6.5" textLength="48.10" lengthAdjust="spacingAndGlyphs" stroke="#222" stroke-width="0.15">Survival Based on</text>
<text x="369.70" y="191.30" font-size="6.5" textLength="53.80" lengthAdjust="spacingAndGlyphs" stroke="#222" stroke-width="0.15">Length of Follow Up</text>
<text x="369.70" y="198.70" font-size="6.5" textLength="31.90" lengthAdjust="spacingAndGlyphs" stroke="#222" stroke-width="0.15">@ Day Care</text>
<text x="436.20" y="182.80" font-size="6.5" textLength="19.80" lengthAdjust="spacingAndGlyphs" stroke="#222" stroke-width="0.15">Legend</text>
<text x="450.30" y="192.30" font-size="6.5" textLength="50.50" lengthAdjust="spacingAndGlyphs" stroke="#222" stroke-width="0.15">Follow up &lt;2 years</text>
<text x="450.30" y="204.20" font-size="6.5" textLength="52.50" lengthAdjust="spacingAndGlyphs" stroke="#222" stroke-width="0.15">Follow up 2-4 years</text>
<text x="450.30" y="216.70" font-size="6.5" textLength="50.50" lengthAdjust="spacingAndGlyphs" stroke="#222" stroke-width="0.15">Follow up &gt;2 years</text>
<text x="308.50" y="242.20" font-size="6.5" textLength="25.70" lengthAdjust="spacingAndGlyphs" stroke="#222" stroke-width="0.15">p &lt; 0.001</text>
</g>
<rect x="0.5" y="0.5" width="519" height="299" fill="none" stroke="#000" stroke-width="1"/>
</svg></body></html>
